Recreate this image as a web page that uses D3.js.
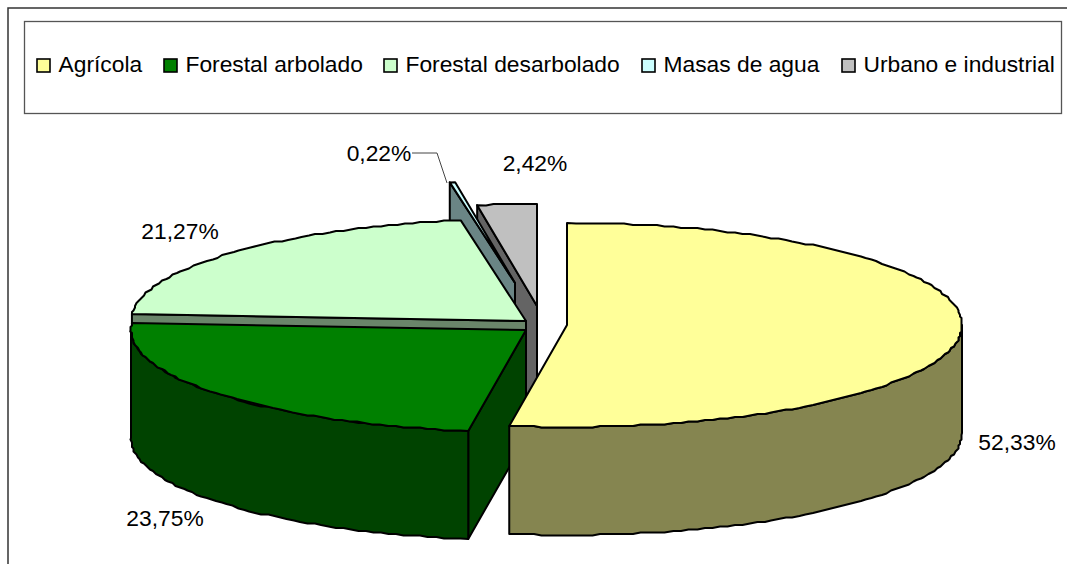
<!DOCTYPE html>
<html>
<head>
<meta charset="utf-8">
<script src="https://cdn.jsdelivr.net/npm/d3@7"></script>
<style>
  html, body { margin: 0; padding: 0; background: #fff; }
  svg { display: block; }
  text { font-family: "Liberation Sans", Arial, sans-serif; fill: #000; }
</style>
</head>
<body>
<svg id="chart" width="1067" height="564"></svg>
<script>
// Chart values
const categories = ["Agrícola", "Forestal arbolado", "Forestal desarbolado", "Masas de agua", "Urbano e industrial"];
const shares = [52.33, 23.75, 21.27, 0.22, 2.42];
const percentLabels = ["52,33%", "23,75%", "21,27%", "0,22%", "2,42%"];
const colors = ["#ffff99", "#008000", "#ccffcc", "#ccffff", "#c0c0c0"];

const width = 1067, height = 564;
const svg = d3.select("#chart");

// Pie layout: the tilted disc is a flat ellipse, each slice pulled out on its own
const rx = 395, ry = 102, depth = 108;
const sliceCentres = [[567, 325], [526, 330], [526, 321], [515, 283], [537, 306]];
const labelPos = [[1017, 450], [165, 526], [180, 239], [379, 161], [535, 171]];
const legendX = [37, 164, 384, 642, 842];

const arcs = d3.pie().sort(null).value(d => d)(shares);

// Disc coordinates: angle goes clockwise from the top, as in d3.pie
const px = d3.scaleLinear().domain([-1, 1]).range([-rx, rx]);
const py = d3.scaleLinear().domain([-1, 1]).range([ry, -ry]);
const rim = (i, a) => [sliceCentres[i][0] + px(Math.sin(a)), sliceCentres[i][1] + py(Math.cos(a))];

// The original rim is a polyline with slightly stepped coordinates
const grid = 1.5;
const snap = v => Math.round(v / grid) * grid;
function rimPoints(i, a0, a1) {
    const n = Math.max(1, Math.round((a1 - a0) / (Math.PI / 150)));
    return d3.range(n + 1).map(k => {
        const p = rim(i, a0 + (a1 - a0) * k / n);
        return (k == 0 || k == n) ? p : [snap(p[0]), snap(p[1])];
    });
}

const line = d3.line();
const closed = pts => line(pts) + "Z";
const shade = c => { const k = d3.rgb(c); return d3.rgb(k.r * 0.52, k.g * 0.52, k.b * 0.52).formatHex(); };
const down = pts => pts.map(p => [p[0], p[1] + depth]);

function addFace(d, fill) {
    svg.append("path")
        .attr("d", d)
        .attr("fill", fill)
        .attr("stroke", "#000")
        .attr("stroke-width", 2)
        .attr("stroke-linejoin", "round");
}

// Chart frame, only the left and top edges fall inside the window
svg.append("path")
    .attr("d", line([[8, height], [8, 8], [width, 8]]))
    .attr("fill", "none")
    .attr("stroke", "#333")
    .attr("stroke-width", 1.5);

// Paint from the back of the disc to the front
[4, 3, 2, 1, 0].forEach(i => {
    const a = arcs[i];
    const c = sliceCentres[i];
    const side = shade(colors[i]);
    const startRim = rim(i, a.startAngle);

    // Cut face at the slice start: the first slice hides its own
    if (i != 0)
        addFace(closed([c, startRim, ...down([startRim, c])]), side);

    // Outer wall: the front half of the rim only
    const a0 = Math.max(a.startAngle, Math.PI / 2);
    const a1 = Math.min(a.endAngle, Math.PI * 1.5);
    if (a1 > a0) {
        const pts = rimPoints(i, a0, a1);
        addFace(closed([...pts, ...down(pts).reverse()]), side);
    }

    addFace(closed([c, ...rimPoints(i, a.startAngle, a.endAngle)]), colors[i]);
});

// Leader line of the small slice
svg.append("path")
    .attr("d", line([[412, 153], [437, 153], [447, 183]]))
    .attr("fill", "none")
    .attr("stroke", "#444")
    .attr("stroke-width", 1);

svg.selectAll("text.pct")
    .data(percentLabels)
    .join("text")
    .attr("class", "pct")
    .attr("x", (d, i) => labelPos[i][0])
    .attr("y", (d, i) => labelPos[i][1])
    .attr("text-anchor", "middle")
    .attr("font-size", 22.8)
    .text(d => d);

// Legend
svg.append("rect")
    .attr("x", 24.5).attr("y", 21.5)
    .attr("width", 1037).attr("height", 92)
    .attr("fill", "#fff")
    .attr("stroke", "#555")
    .attr("stroke-width", 1.3);

const legend = svg.selectAll("g.legend")
    .data(categories)
    .join("g")
    .attr("class", "legend")
    .attr("transform", (d, i) => `translate(${legendX[i]},59)`);

legend.append("rect")
    .attr("width", 13).attr("height", 13)
    .attr("fill", (d, i) => colors[i])
    .attr("stroke", "#000")
    .attr("stroke-width", 1.6);

legend.append("text")
    .attr("x", 21.5)
    .attr("y", 13)
    .attr("font-size", 22.8)
    .text(d => d);
</script>
</body>
</html>
